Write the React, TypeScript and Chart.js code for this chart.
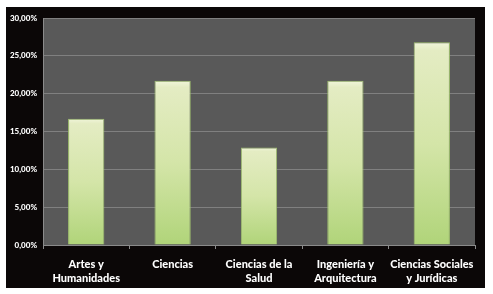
import React, { useEffect, useRef } from "react";
import { Chart, registerables } from "chart.js";

Chart.register(...registerables);

const categories: string[][] = [
  ["Artes y", "Humanidades"],
  ["Ciencias"],
  ["Ciencias de la", "Salud"],
  ["Ingeniería y", "Arquitectura"],
  ["Ciencias Sociales", "y Jurídicas"],
];
const values: number[] = [16.7, 21.7, 12.9, 21.7, 26.8];
const yMax = 30;
const yStep = 5;

const plotBg = {
  id: "plotBg",
  beforeDraw(chart: any) {
    const { ctx, chartArea } = chart;
    if (!chartArea) return;
    ctx.save();
    ctx.fillStyle = "#595959";
    ctx.fillRect(chartArea.left, chartArea.top, chartArea.right - chartArea.left, chartArea.bottom - chartArea.top);
    ctx.restore();
  },
};

export default function App() {
  const ref = useRef<HTMLCanvasElement>(null);
  useEffect(() => {
    document.body.style.margin = "0";
    const canvas = ref.current!;
    const chart = new Chart(canvas, {
      type: "bar",
      data: {
        labels: categories,
        datasets: [
          {
            data: values,
            backgroundColor: (ctx: any) => {
              const c = ctx.chart;
              const ys = c.scales && c.scales.y;
              if (!c.chartArea || !ys || ctx.raw == null) return "#c8e09a";
              const top = ys.getPixelForValue(ctx.raw);
              const bottom = ys.getPixelForValue(0);
              const g = c.ctx.createLinearGradient(0, top, 0, bottom);
              g.addColorStop(0, "#f0f5da");
              g.addColorStop(0.04, "#e4ecc3");
              g.addColorStop(0.5, "#d4e5a8");
              g.addColorStop(1, "#b0d479");
              return g;
            },
            borderColor: "#9fbf6e",
            borderWidth: 1,
            barPercentage: 0.84,
            categoryPercentage: 0.5,
          },
        ],
      },
      options: {
        animation: false,
        responsive: false,
        maintainAspectRatio: false,
        layout: { padding: { top: 11, right: 10, left: 0, bottom: 0 } },
        plugins: { legend: { display: false }, tooltip: { enabled: false } },
        scales: {
          x: {
            grid: {
              display: true,
              drawOnChartArea: false,
              drawTicks: true,
              tickLength: 4,
              color: "#8a8a8a",
              offset: true,
            },
            border: { display: true, color: "#8a8a8a", width: 1 },
            ticks: {
              color: "#ffffff",
              font: { family: "Lato", weight: "900", size: 11, lineHeight: 1.3 },
              padding: 8,
              maxRotation: 0,
              autoSkip: false,
            },
            afterFit: (s: any) => {
              s.height = 43;
            },
          },
          y: {
            min: 0,
            max: yMax,
            grid: { color: "#808080", lineWidth: 1, drawTicks: false },
            border: { display: true, color: "#8a8a8a", width: 1 },
            ticks: {
              stepSize: yStep,
              color: "#ffffff",
              font: { family: "Lato", weight: "900", size: 8 },
              padding: 6,
              callback: (v: any) => Number(v).toFixed(2).replace(".", ",") + "%",
            },
            afterFit: (s: any) => {
              s.width = 37;
            },
          },
        },
      },
      plugins: [plotBg],
    } as any);
    return () => chart.destroy();
  }, []);
  return (
    <div style={{ position: "relative", width: 493, height: 294, background: "#ffffff" }}>
      <div style={{ position: "absolute", left: 6, top: 7, width: 479, height: 281, background: "#0b0707" }}>
        <canvas ref={ref} width={479} height={281} style={{ display: "block", width: 479, height: 281 }} />
      </div>
    </div>
  );
}
